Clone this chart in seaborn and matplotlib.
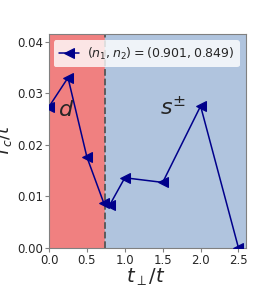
import matplotlib
matplotlib.use("Agg")
import matplotlib.pyplot as plt
import seaborn as sns
import pandas as pd

# data
t_perp = [0.0, 0.25, 0.5, 0.72, 0.8, 1.0, 1.5, 2.0, 2.5]
tc = [0.0274, 0.0330, 0.0176, 0.0088, 0.0083, 0.0136, 0.0127, 0.0275, 0.0]
boundary = 0.737
label = r"$(n_1,n_2)=(0.901, 0.849)$"
xticks = [0.0, 0.5, 1.0, 1.5, 2.0, 2.5]
yticks = [0.0, 0.01, 0.02, 0.03, 0.04]

df = pd.DataFrame({"t_perp": t_perp, "tc": tc})

sns.set_style("ticks")
plt.rcParams['font.family'] = ['DejaVu Sans']

fig = plt.figure(figsize=(2.74, 2.92), dpi=100)
ax = fig.add_axes([0.179, 0.151, 0.719, 0.733])

xmax, ymax = 2.6, 0.0415
ax.axvspan(0, boundary, color="lightcoral", zorder=0)
ax.axvspan(boundary, xmax, color="lightsteelblue", zorder=0)
ax.axvline(boundary, color="#555555", ls="--", lw=1.3, zorder=1)

sns.lineplot(data=df, x="t_perp", y="tc", sort=False, ax=ax, color="darkblue",
             marker="<", markersize=6.5, markeredgecolor="darkblue", lw=1.1,
             label=label, zorder=3)

ax.text(0.22, 0.0268, "$d$", fontsize=16, ha="center", va="center")
ax.text(1.63, 0.0272, r"$s^{\pm}$", fontsize=16, ha="center", va="center")

ax.set_xlim(0, xmax)
ax.set_ylim(0, ymax)
ax.set_xticks(xticks)
ax.set_yticks(yticks)
ax.set_xticklabels([f"{v:.1f}" for v in xticks])
ax.set_yticklabels([f"{v:.2f}" for v in yticks])
ax.tick_params(labelsize=8.5, length=3, pad=1.5, color="gray")
ax.set_xlabel(r"$t_\perp/t$", fontsize=14)
ax.set_ylabel(r"$T_c/t$", fontsize=12.5)
ax.xaxis.set_label_coords(0.49, -0.09)
ax.yaxis.set_label_coords(-0.178, 0.5)
for s in ax.spines.values():
    s.set_color("gray")

leg = ax.legend(loc="upper right", fontsize=9, handlelength=1.6,
                borderpad=0.45, handletextpad=0.6, framealpha=0.8)
leg.get_frame().set_edgecolor("none")

fig.savefig("out.png", dpi=100)
